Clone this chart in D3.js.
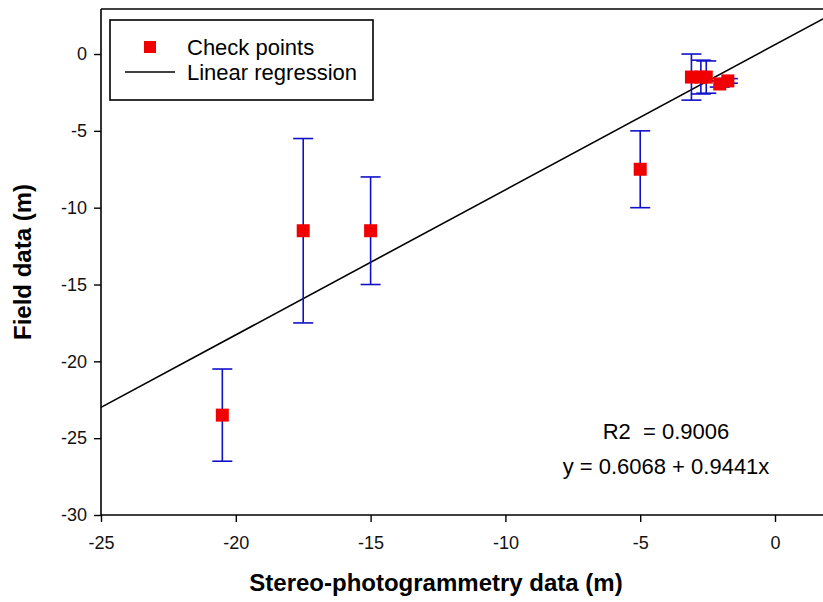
<!DOCTYPE html>
<html>
<head>
<meta charset="utf-8">
<script src="https://cdn.jsdelivr.net/npm/d3@7"></script>
<style>
  body { margin: 0; background: #fff; }
  text { font-family: "Liberation Sans", Arial, sans-serif; }
</style>
</head>
<body>
<svg id="chart" width="823" height="602"></svg>
<script>
// check points: stereo-photogrammetry (x), field (y), error bar half-length
const stereoX = [-20.5, -17.5, -15, -5, -3.1, -2.75, -2.55, -2.05, -1.75];
const fieldY = [-23.5, -11.5, -11.5, -7.5, -1.5, -1.5, -1.5, -1.95, -1.75];
const fieldErr = [3, 6, 3.5, 2.5, 1.5, 1.1, 1.05, 0.2, 0.15];

const xTicks = [-25, -20, -15, -10, -5, 0];
const yTicks = [0, -5, -10, -15, -20, -25, -30];

const intercept = 0.6068;
const slope = 0.9441;
const r2Label = "R2  = 0.9006";
const eqLabel = "y = 0.6068 + 0.9441x";

const svg = d3.select("#chart");
const mLeft = 101, mRight = 823, mTop = 9, mBottom = 515;

const x = d3.scaleLinear().domain([-25, 1.78]).range([mLeft, mRight]);
const y = d3.scaleLinear().domain([-30, 2.93]).range([mBottom, mTop]);

const points = stereoX.map((v, i) => ({ x: v, y: fieldY[i], e: fieldErr[i] }));

// frame top line
svg.append("line")
  .attr("x1", mLeft).attr("x2", mRight)
  .attr("y1", mTop).attr("y2", mTop)
  .attr("stroke", "#000").attr("stroke-width", 1.6);

const xAxis = svg.append("g")
  .attr("transform", `translate(0,${mBottom})`)
  .call(d3.axisBottom(x).tickValues(xTicks).tickSize(7).tickPadding(14).tickFormat(d3.format("d")));
xAxis.select(".domain").attr("d", `M${mLeft},0H${mRight}`).attr("stroke-width", 1.6);

const yAxis = svg.append("g")
  .attr("transform", `translate(${mLeft},0)`)
  .call(d3.axisLeft(y).tickValues(yTicks).tickSize(7).tickPadding(7).tickFormat(d3.format("d")));
yAxis.select(".domain").attr("d", `M0,${mTop}V${mBottom}`).attr("stroke-width", 1.6);

svg.selectAll(".tick line").attr("stroke-width", 1.4);
svg.selectAll(".tick text")
  .style("font-family", "'Liberation Sans', Arial, sans-serif")
  .style("font-size", "18px")
  .attr("fill", "#111")
  .text(d => String(d));

// regression line
const xs = x.domain();
svg.append("line")
  .attr("x1", x(xs[0])).attr("y1", y(intercept + slope * xs[0]))
  .attr("x2", x(xs[1])).attr("y2", y(intercept + slope * xs[1]))
  .attr("stroke", "#000").attr("stroke-width", 1.6);

// error bars
const eb = svg.append("g").attr("stroke", "#1010c8").attr("stroke-width", 1.6);
points.forEach(p => {
  const cx = x(p.x);
  eb.append("line").attr("x1", cx).attr("x2", cx).attr("y1", y(p.y + p.e)).attr("y2", y(p.y - p.e));
  [p.y + p.e, p.y - p.e].forEach(v => {
    eb.append("line").attr("x1", cx - 10).attr("x2", cx + 10).attr("y1", y(v)).attr("y2", y(v));
  });
});

// squares
const sz = 13;
svg.append("g")
  .selectAll("rect")
  .data(points)
  .join("rect")
  .attr("x", d => x(d.x) - sz / 2)
  .attr("y", d => y(d.y) - sz / 2)
  .attr("width", sz).attr("height", sz)
  .attr("fill", "#f00000");

// legend
const lg = svg.append("g");
lg.append("rect")
  .attr("x", 110).attr("y", 20).attr("width", 263).attr("height", 80)
  .attr("fill", "#fff").attr("stroke", "#000").attr("stroke-width", 1.6);
lg.append("rect").attr("x", 144).attr("y", 41).attr("width", 12).attr("height", 12).attr("fill", "#f00000");
lg.append("line").attr("x1", 125).attr("x2", 175).attr("y1", 72).attr("y2", 72)
  .attr("stroke", "#000").attr("stroke-width", 1.5);
lg.append("text").attr("x", 187).attr("y", 55).attr("font-size", 22).text("Check points");
lg.append("text").attr("x", 187).attr("y", 80).attr("font-size", 22).text("Linear regression");

// annotations
svg.append("text").attr("x", 666).attr("y", 439).attr("text-anchor", "middle")
  .attr("font-size", 22).style("white-space", "pre").text(r2Label);
svg.append("text").attr("x", 666).attr("y", 474).attr("text-anchor", "middle")
  .attr("font-size", 22).text(eqLabel);

// axis titles
svg.append("text").attr("x", 436).attr("y", 591).attr("text-anchor", "middle")
  .attr("font-size", 24).attr("font-weight", "bold").text("Stereo-photogrammetry data (m)");
svg.append("text")
  .attr("transform", "translate(31,262) rotate(-90)")
  .attr("text-anchor", "middle")
  .attr("font-size", 24).attr("font-weight", "bold").text("Field data (m)");
</script>
</body>
</html>
